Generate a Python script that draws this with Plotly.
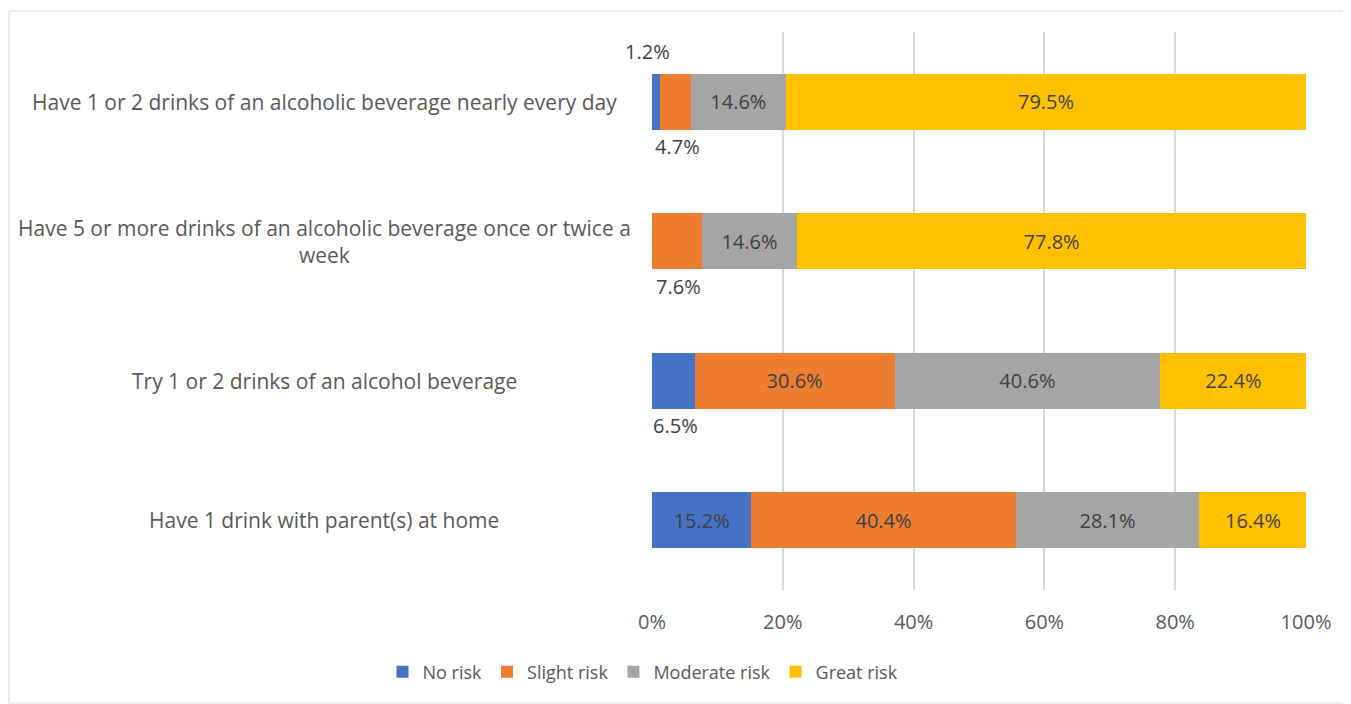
import plotly.graph_objects as go

# survey items, top to bottom
items = [
    "Have 1 or 2 drinks of an alcoholic beverage nearly every day",
    "Have 5 or more drinks of an alcoholic beverage once or twice a<br>week",
    "Try 1 or 2 drinks of an alcohol beverage",
    "Have 1 drink with parent(s) at home",
]
series = ["No risk", "Slight risk", "Moderate risk", "Great risk"]
no_risk = [1.2, 0.0, 6.5, 15.2]
slight_risk = [4.7, 7.6, 30.6, 40.4]
moderate_risk = [14.6, 14.6, 40.6, 28.1]
great_risk = [79.5, 77.8, 22.4, 16.4]
x_ticks = [0, 20, 40, 60, 80, 100]

values = [no_risk, slight_risk, moderate_risk, great_risk]
colors = ["#4472C4", "#ED7D31", "#A5A5A5", "#FFC000"]
font = "Open Sans"

# plot area on screen: x 652..1306, y 32..590 (page adds an 8px body margin)
OFF = 8
L, R, T, B = 652, 1306, 32, 590
W, H = 1351, 704


def px_x(p):
    return (p - L) / (R - L)


def px_y(p):
    return (B - p) / (B - T)


fig = go.Figure()
for name, vals, col in zip(series, values, colors):
    fig.add_trace(go.Bar(
        y=items, x=vals, name=name, orientation="h",
        marker=dict(color=col, line=dict(width=0)),
        text=[f"{v}%" if v >= 10 else "" for v in vals],
        textposition="inside", insidetextanchor="middle",
        textangle=0, constraintext="none",
        textfont=dict(family=font, size=20, color="#404040"),
        hoverinfo="x+name",
    ))

annotations = []
# small segment labels outside the bars
for i, item in enumerate(items):
    cum = 0
    for s in range(len(series)):
        v = values[s][i]
        if 0 < v < 10:
            nxt = values[s + 1][i] if s + 1 < len(series) else 100
            above = nxt < 10
            annotations.append(dict(
                x=cum + v / 2, y=item, xref="x", yref="y",
                text=f"{v}%", showarrow=False,
                xshift=-8 if above else 2,
                yshift=50 if above else -45,
                font=dict(family=font, size=20, color="#404040"),
            ))
        cum += v

# category labels, centred in the left area
for item in items:
    annotations.append(dict(
        x=px_x(324), y=item, xref="paper", yref="y",
        text=item, showarrow=False, xanchor="center",
        font=dict(family=font, size=21, color="#595959"),
    ))

fig.update_layout(
    width=W, height=H,
    margin=dict(l=L - OFF, r=W - (R - OFF), t=T - OFF, b=H - (B - OFF)),
    paper_bgcolor="white", plot_bgcolor="white",
    barmode="stack", bargap=0.6,
    showlegend=True,
    legend=dict(
        orientation="h", x=px_x(643), xanchor="center",
        y=px_y(672), yanchor="middle",
        font=dict(family=font, size=18, color="#595959"),
        traceorder="normal",
    ),
    annotations=annotations,
    shapes=[dict(
        type="rect", xref="paper", yref="paper",
        x0=px_x(9), x1=px_x(1345), y0=px_y(703), y1=px_y(11),
        line=dict(color="#d9d9d9", width=1), layer="below",
    )],
)
fig.update_xaxes(
    range=[0, 100], tickvals=x_ticks, ticktext=[f"{t}%" for t in x_ticks],
    showgrid=True, gridcolor="#d9d9d9", gridwidth=1.5,
    zeroline=False, showline=False, ticks="",
    tickfont=dict(family=font, size=20, color="#595959"),
    ticklabelstandoff=18,
)
fig.update_yaxes(
    categoryorder="array", categoryarray=items, autorange="reversed",
    showticklabels=False, showgrid=False, zeroline=False, showline=False,
)

fig.write_html("out.html")
